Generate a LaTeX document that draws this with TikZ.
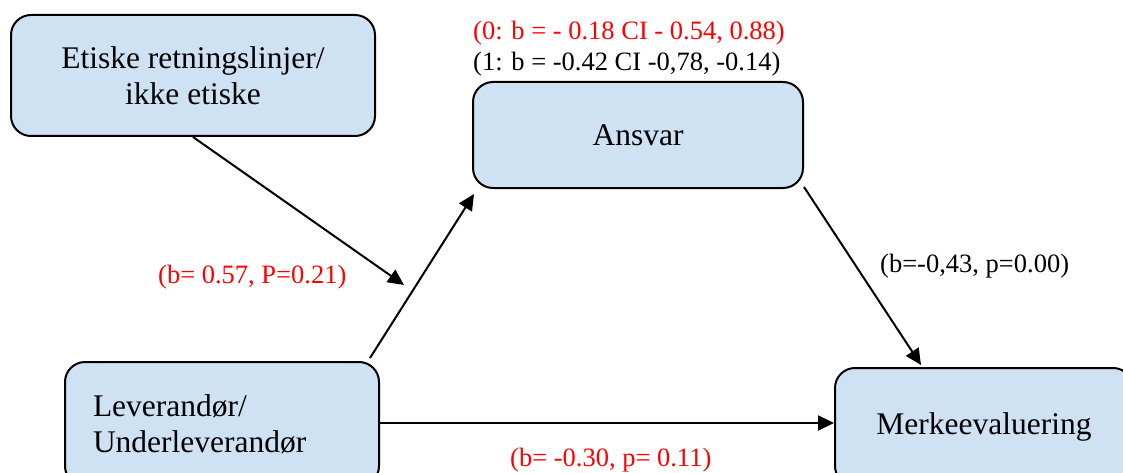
\documentclass[tikz,border=0pt]{standalone}
\usepackage{fontspec}
\setmainfont{Liberation Serif}
\usetikzlibrary{arrows.meta,calc}
\definecolor{boxfill}{RGB}{207,226,243}
\definecolor{lblred}{RGB}{255,0,0}
\tikzset{
  box/.style={draw=black, line width=2pt, fill=boxfill, rounded corners=20pt,
    font=\fontsize{31.5}{36}\selectfont, inner sep=0pt},
  conn/.style={line width=2pt, -{Triangle[length=16pt,width=15pt]}},
  lbl/.style={font=\fontsize{26.5}{31}\selectfont, inner sep=0pt, anchor=base west},
}
\begin{document}
\begin{tikzpicture}[x=1pt,y=-1pt]
\useasboundingbox (0,0) rectangle (1123,473);
\clip (0,0) rectangle (1123,473);
\node[box, minimum width=364pt, minimum height=121pt, align=center] (eth) at (193,75.5)
  {Etiske retningslinjer/\\ikke etiske};
\node[box, minimum width=330pt, minimum height=106pt] (ans) at (638,135) {Ansvar};
\node[box, minimum height=124pt, text width=258pt, inner xsep=28pt, align=left] (lev) at (222,424)
  {Leverandør/\\Underleverandør};
\node[box, minimum width=298pt, minimum height=118pt] (mer) at (984,427) {Merkeevaluering};
\coordinate (mod) at (404,285);
\draw[conn] (eth.south) -- (mod);
\draw[conn] ($(lev.north east)+(-10,-3)$) -- ($(ans.south west)+(2,5)$);
\draw[conn] ($(ans.south east)+(0,-2)$) -- ($(mer.north west)+(87,-2)$);
\draw[conn] (lev.east |- 0,423) -- (mer.west |- 0,423);
\node[lbl, text=lblred] (l0) at (473,40) {(0: b = - 0.18 CI - 0.54, 0.88)};
\node[lbl] (l1) at (473,71) {(1: b = -0.42 CI -0,78, -0.14)};
\node[lbl, text=lblred] (la) at (158,283) {(b= 0.57, P=0.21)};
\node[lbl] (lb) at (880,272) {(b=-0,43, p=0.00)};
\node[lbl, text=lblred] (lc) at (510,466) {(b= -0.30, p= 0.11)};
\end{tikzpicture}
\end{document}
